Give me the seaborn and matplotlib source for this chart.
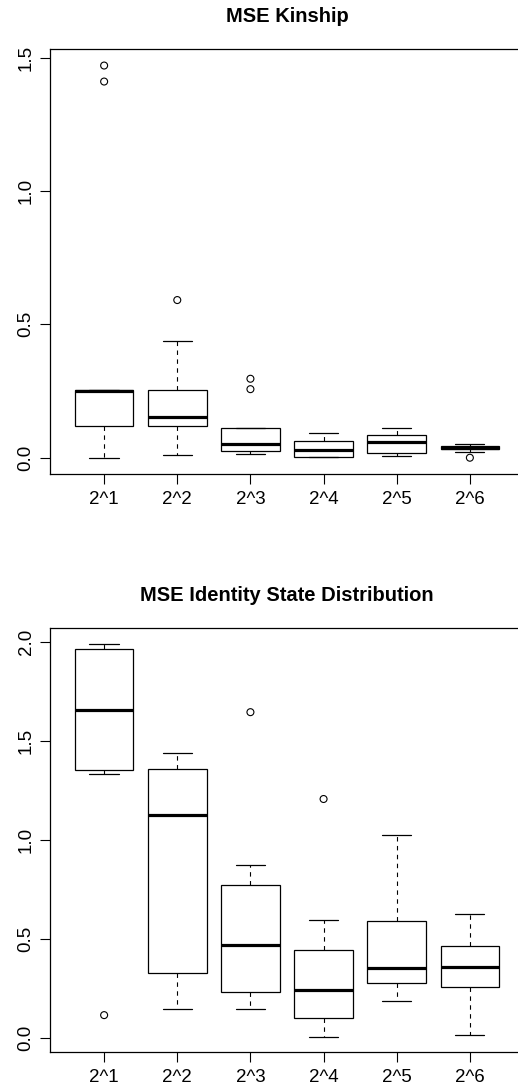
import numpy as np
import pandas as pd
import matplotlib
matplotlib.use("Agg")
import matplotlib.pyplot as plt
import seaborn as sns

# ---------------- data ----------------
categories = ["2^1", "2^2", "2^3", "2^4", "2^5", "2^6"]

# Panel 1: MSE Kinship  (five-number summaries + outliers)
kin_low    = [0.000, 0.010, 0.015, 0.001, 0.008, 0.020]
kin_q1     = [0.120, 0.120, 0.026, 0.002, 0.018, 0.031]
kin_median = [0.250, 0.153, 0.050, 0.029, 0.058, 0.036]
kin_q3     = [0.254, 0.255, 0.110, 0.061, 0.084, 0.045]
kin_high   = [0.254, 0.436, 0.110, 0.091, 0.111, 0.050]
kin_out_cat = ["2^1", "2^1", "2^2", "2^3", "2^3", "2^6"]
kin_out_val = [1.470, 1.410, 0.591, 0.296, 0.257, 0.000]

# Panel 2: MSE Identity State Distribution
isd_low    = [1.334, 0.149, 0.146, 0.007, 0.187, 0.017]
isd_q1     = [1.351, 0.329, 0.235, 0.101, 0.279, 0.257]
isd_median = [1.657, 1.128, 0.469, 0.245, 0.356, 0.360]
isd_q3     = [1.965, 1.360, 0.772, 0.444, 0.590, 0.467]
isd_high   = [1.990, 1.439, 0.874, 0.597, 1.027, 0.627]
isd_out_cat = ["2^1", "2^3", "2^4"]
isd_out_val = [0.117, 1.645, 1.207]

titles = ["MSE Kinship", "MSE Identity State Distribution"]
yticks_1 = [0.0, 0.5, 1.0, 1.5]
yticks_2 = [0.0, 0.5, 1.0, 1.5, 2.0]


def summary_frame(low, q1, med, q3, high):
    rows = []
    for c, a, b, m, d, e in zip(categories, low, q1, med, q3, high):
        for v in (a, b, m, d, e):
            rows.append({"group": c, "value": v})
    return pd.DataFrame(rows)


sns.set_theme(style="ticks")
plt.rcParams["font.family"] = ["Liberation Sans", "DejaVu Sans"]
plt.rcParams["axes.linewidth"] = 0.9
plt.rcParams["axes.edgecolor"] = "black"
plt.rcParams["text.color"] = "black"
plt.rcParams["axes.titlecolor"] = "black"

W, H = 518, 1089
fig = plt.figure(figsize=(W / 100, H / 100), dpi=100)

panels = [
    dict(df=summary_frame(kin_low, kin_q1, kin_median, kin_q3, kin_high),
         out=pd.DataFrame({"group": kin_out_cat, "value": kin_out_val}),
         title=titles[0], yticks=yticks_1, ylim=(-0.061, 1.532),
         rect=[50 / W, 1 - 474 / H, 474 / W, 425 / H]),
    dict(df=summary_frame(isd_low, isd_q1, isd_median, isd_q3, isd_high),
         out=pd.DataFrame({"group": isd_out_cat, "value": isd_out_val}),
         title=titles[1], yticks=yticks_2, ylim=(-0.069, 2.071),
         rect=[50 / W, 1 - 1052 / H, 474 / W, 424.3 / H]),
]

for p in panels:
    ax = fig.add_axes(p["rect"])
    sns.boxplot(data=p["df"], x="group", y="value", order=categories,
                whis=(0, 100), showfliers=False, color="white",
                linecolor="black", linewidth=0.9, width=0.8, ax=ax,
                medianprops={"linewidth": 2.3, "color": "black"},
                whiskerprops={"linestyle": (0, (4, 4)), "linewidth": 0.8},
                capprops={"linewidth": 0.9})
    sns.stripplot(data=p["out"], x="group", y="value", order=categories,
                  jitter=False, size=5, color="black", linewidth=0.8,
                  edgecolor="black", ax=ax)
    for coll in ax.collections:
        coll.set_facecolor("none")
        coll.set_edgecolor("black")
    ax.set_xlim(-0.74, 5.74)
    ax.set_ylim(*p["ylim"])
    ax.set_yticks(p["yticks"])
    ax.set_yticklabels([f"{v:.1f}" for v in p["yticks"]])
    ax.set_xlabel("")
    ax.set_ylabel("")
    ax.tick_params(axis="both", direction="out", length=7, width=0.8,
                   labelsize=13.5, colors="black")
    ax.tick_params(axis="x", pad=5)
    ax.tick_params(axis="y", labelrotation=90, pad=4)
    for lab in ax.get_yticklabels():
        lab.set_va("center")
    for s in ax.spines.values():
        s.set_visible(True)
        s.set_color("black")
    ax.set_title(p["title"], fontsize=14.5, fontweight="bold", pad=19.5,
                 color="black")

fig.savefig("out.png", dpi=100)
